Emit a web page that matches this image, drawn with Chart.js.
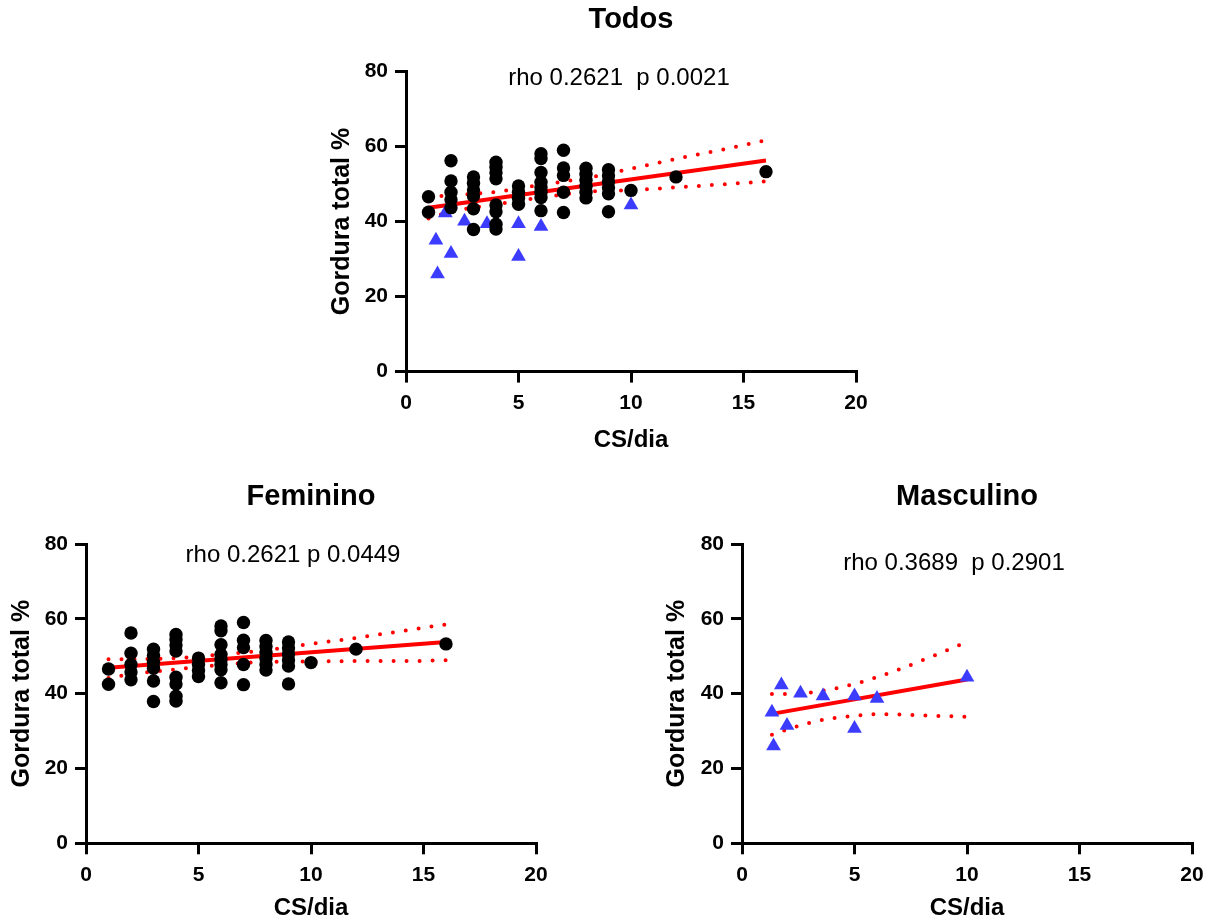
<!DOCTYPE html>
<html lang="pt">
<head>
<meta charset="utf-8">
<title>Gordura total % x CS/dia</title>
<script src="https://cdn.jsdelivr.net/npm/chart.js@4.4.1/dist/chart.umd.min.js"></script>
<style>
  body { margin: 0; background: #fff; }
  #painel { position: relative; width: 1213px; height: 920px; }
  canvas { position: absolute; }
</style>
</head>
<body>
<div id="painel">
  <canvas id="todos" width="620" height="460" style="left:280px;top:0"></canvas>
  <canvas id="feminino" width="580" height="460" style="left:0;top:460px"></canvas>
  <canvas id="masculino" width="593" height="460" style="left:620px;top:460px"></canvas>
</div>
<script>
// Feminino: CS/dia x gordura total %
const femCS = [1, 1,
  2, 2, 2, 2, 2,
  3, 3, 3, 3, 3, 3,
  4, 4, 4, 4, 4, 4, 4, 4,
  5, 5, 5, 5,
  6, 6, 6, 6, 6, 6, 6, 6,
  7, 7, 7, 7, 7,
  8, 8, 8, 8, 8, 8,
  9, 9, 9, 9, 9, 9,
  10, 12, 16];
const femGordura = [46.6, 42.5,
  56.2, 50.8, 47.8, 45.8, 43.7,
  51.9, 50.2, 48.4, 46.8, 43.4, 37.9,
  55.8, 54.5, 53.0, 51.4, 44.4, 42.6, 39.3, 38.0,
  49.5, 47.8, 46.2, 44.6,
  58.1, 56.8, 53.1, 50.5, 49.1, 47.8, 46.4, 42.9,
  59.0, 54.3, 52.3, 47.8, 42.4,
  54.2, 52.6, 51.0, 49.4, 47.8, 46.3,
  53.8, 52.2, 50.6, 49.0, 47.4, 42.6,
  48.3, 51.9, 53.3];

// Masculino
const mascCS = [1.33, 1.4, 1.75, 2, 2.6, 3.6, 5, 5, 6, 10];
const mascGordura = [35.0, 26.0, 42.3, 31.5, 40.1, 39.4, 39.4, 30.7, 38.7, 44.4];

// retas de regressão e bandas de confiança
const todosRetaX = [1, 16];
const todosRetaY = [43.7, 56.3];
const todosBandaX = [1, 2, 4, 6, 8, 10, 12, 14, 16];
const todosSup = [46.5, 47.0, 47.9, 49.8, 51.6, 54.1, 56.7, 59.1, 61.7];
const todosInf = [40.8, 42.6, 44.6, 46.4, 47.9, 48.4, 49.1, 49.9, 50.7];

const femRetaX = [1, 16];
const femRetaY = [46.9, 53.8];
const femBandaX = [1, 2, 4, 6, 8, 10, 12, 14, 16];
const femSup = [49.2, 49.2, 49.5, 50.5, 51.6, 53.3, 54.9, 56.7, 58.5];
const femInf = [44.2, 45.2, 46.5, 47.7, 48.5, 48.6, 48.7, 48.7, 48.9];

const mascRetaX = [1.33, 10];
const mascRetaY = [34.6, 43.8];
const mascBandaX = [1.33, 2, 3, 4, 5, 6, 7, 8, 9, 10];
const mascSup = [39.9, 39.9, 40.3, 41.2, 42.6, 44.4, 46.5, 48.9, 51.3, 53.8];
const mascInf = [29.0, 30.4, 32.2, 33.4, 34.1, 34.5, 34.4, 34.2, 34.0, 33.8];

const xTicks = [0, 5, 10, 15, 20];
const yTicks = [0, 20, 40, 60, 80];

const FONTE = '"Liberation Sans", Arial, sans-serif';
Chart.defaults.font.family = FONTE;
Chart.defaults.color = '#000';

const AZUL = 'rgb(60,60,255)';
const VERMELHO = '#ff0000';

function pontos(xs, ys) {
  return xs.map((x, i) => ({ x: x, y: ys[i] }));
}

function femininos() {
  return { data: pontos(femCS, femGordura), pointStyle: 'circle', pointRadius: 6.7,
    backgroundColor: '#000', borderColor: '#000', borderWidth: 0 };
}
function masculinos() {
  return { data: pontos(mascCS, mascGordura), pointStyle: 'triangle', pointRadius: 8.5,
    backgroundColor: AZUL, borderColor: AZUL, borderWidth: 0 };
}
function reta(xs, ys) {
  return { data: pontos(xs, ys), showLine: true, borderColor: VERMELHO, borderWidth: 4,
    pointRadius: 0 };
}
function banda(xs, ys) {
  return { data: pontos(xs, ys), showLine: true, borderColor: VERMELHO, borderWidth: 4,
    borderDash: [0, 13], borderCapStyle: 'round', cubicInterpolationMode: 'monotone',
    pointRadius: 0 };
}

// título e estatística de correlação
const notas = {
  id: 'notas',
  afterDraw(chart, args, o) {
    const { ctx, chartArea: a } = chart;
    ctx.save();
    ctx.fillStyle = '#000';
    ctx.textAlign = 'center';
    ctx.textBaseline = 'middle';
    ctx.font = 'bold 29px ' + FONTE;
    ctx.fillText(o.titulo, (a.left + a.right) / 2, a.top - o.tituloDy);
    ctx.font = '24px ' + FONTE;
    ctx.fillText(o.estat, a.left + o.estatDx, a.top + o.estatDy);
    ctx.restore();
  }
};

function eixo(min, max, valores, titulo, tamTitulo, tituloPad) {
  return {
    type: 'linear', min: min, max: max,
    afterBuildTicks: s => { s.ticks = valores.map(v => ({ value: v })); },
    grid: { drawOnChartArea: false, drawTicks: true, tickLength: 11, lineWidth: 3, color: '#000' },
    border: { display: true, width: 3, color: '#000' },
    ticks: { font: { size: 21, weight: 'bold' }, color: '#000', padding: 7 },
    title: { display: true, text: titulo, color: '#000', padding: tituloPad,
      font: { size: tamTitulo, weight: 'bold', lineHeight: 1 } }
  };
}

function grafico(id, c) {
  const x = eixo(0, 20, xTicks, 'CS/dia', 24, { top: 0, bottom: c.xTitPad });
  x.afterFit = s => { s.height = c.xAltura; };
  x.ticks.padding = 8;
  const y = eixo(0, 80, yTicks, 'Gordura total %', 25, { top: c.yTitPad, bottom: 0 });
  y.afterFit = s => { s.width = c.yLargura; };
  new Chart(document.getElementById(id), {
    type: 'scatter',
    data: { datasets: c.datasets },
    plugins: [notas],
    options: {
      responsive: false,
      animation: false,
      devicePixelRatio: 1,
      layout: { padding: { top: c.topo, right: c.direita, left: 0, bottom: 0 } },
      scales: { x: x, y: y },
      plugins: {
        legend: { display: false },
        tooltip: { enabled: false },
        notas: c.notas
      }
    }
  });
}

grafico('todos', {
  datasets: [femininos(), masculinos(), reta(todosRetaX, todosRetaY),
    banda(todosBandaX, todosSup), banda(todosBandaX, todosInf)],
  topo: 71.5, direita: 44, xAltura: 88.4, yLargura: 126, xTitPad: 8, yTitPad: 50,
  notas: { titulo: 'Todos', tituloDy: 51.5, estat: 'rho 0.2621  p 0.0021', estatDx: 213, estatDy: 6.5 }
});

grafico('feminino', {
  datasets: [femininos(), reta(femRetaX, femRetaY),
    banda(femBandaX, femSup), banda(femBandaX, femInf)],
  topo: 84, direita: 44, xAltura: 76.7, yLargura: 86, xTitPad: 0, yTitPad: 10,
  notas: { titulo: 'Feminino', tituloDy: 47, estat: 'rho 0.2621 p 0.0449', estatDx: 207, estatDy: 11 }
});

grafico('masculino', {
  datasets: [masculinos(), reta(mascRetaX, mascRetaY),
    banda(mascBandaX, mascSup), banda(mascBandaX, mascInf)],
  topo: 84, direita: 21, xAltura: 76.7, yLargura: 122, xTitPad: 0, yTitPad: 45,
  notas: { titulo: 'Masculino', tituloDy: 47, estat: 'rho 0.3689  p 0.2901', estatDx: 212, estatDy: 19 }
});
</script>
</body>
</html>
